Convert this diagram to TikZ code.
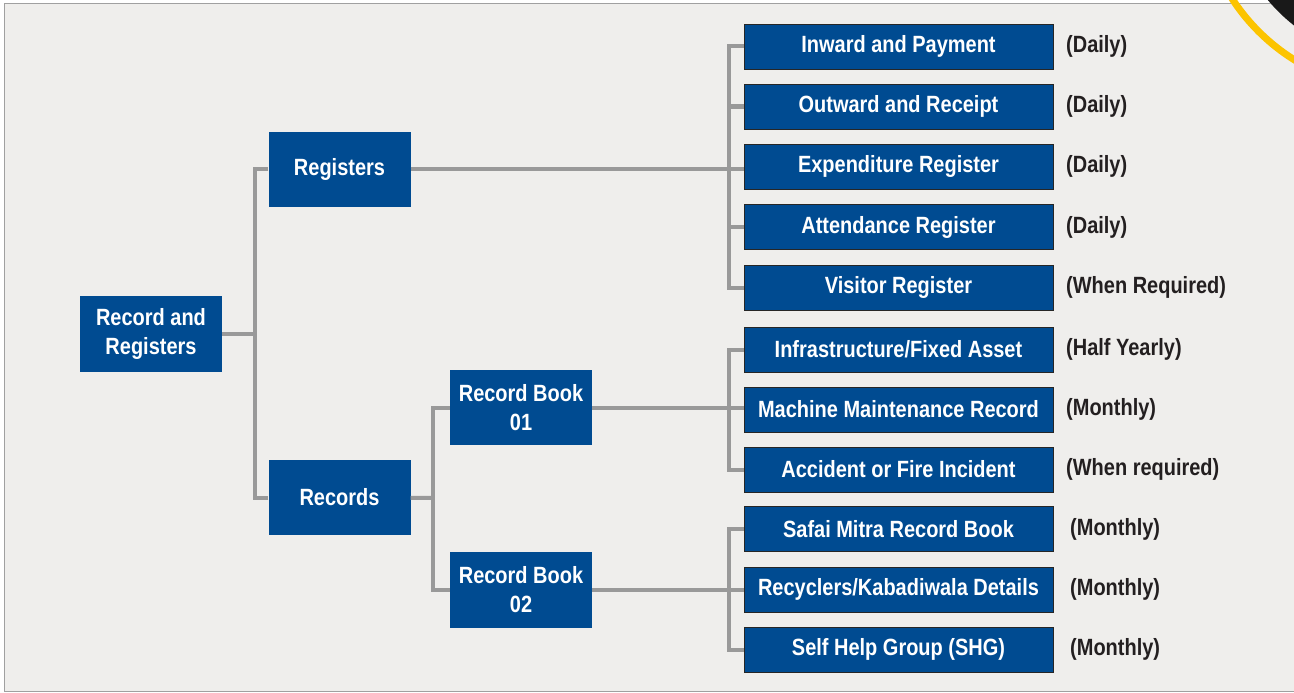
\documentclass[tikz,border=0pt]{standalone}
\usepackage{fontspec}
\setmainfont{Liberation Sans}[FakeStretch=0.85]
\usepackage{xcolor}
\usepackage{tikz}
\usetikzlibrary{positioning, calc}

\definecolor{boxblue}{RGB}{0,75,145}
\definecolor{panelgray}{RGB}{239,238,236}
\definecolor{framegray}{RGB}{160,160,160}
\definecolor{linegray}{RGB}{153,153,153}
\definecolor{ringyellow}{RGB}{252,196,0}
\definecolor{darktext}{RGB}{35,31,32}

\begin{document}
\begin{tikzpicture}[x=1pt, y=-1pt,
    box/.style={rectangle, fill=boxblue, text=white, align=center, inner sep=0pt, minimum width=142pt, minimum height=76pt, font=\fontsize{23.5}{29}\selectfont\bfseries},
    item/.style={box, draw=black!85, line width=0.8pt, minimum width=309pt, minimum height=45pt},
    freq/.style={anchor=west, inner sep=0pt, text=darktext, font=\fontsize{23.5}{29}\selectfont\bfseries},
    link/.style={draw=linegray, line width=4pt}
]

\clip (0,0) rectangle (1294,693);
\useasboundingbox (0,0) rectangle (1294,693);

% Background panel and corner badge
\fill[white] (0,0) rectangle (1294,693);
\draw[framegray, fill=panelgray, line width=1.5pt] (4.5,3.5) rectangle (1320,691.5);
\draw[ringyellow, line width=7pt] (1400,-110) circle (200);
\fill[black!90] (1400,-110) circle (172);

% Main levels
\node[box] (root) at (151,334) {Record and\\Registers};
\node[box, minimum height=75pt] (reg) at (339.5,169) {Registers};
\node[box, minimum height=75pt] (rec) at (339.5,497.5) {Records};
\node[box, minimum height=75pt] (rb1) at (521,407.5) {Record Book\\01};
\node[box] (rb2) at (521,590) {Record Book\\02};

% Registers
\node[item] (r1) at (898.5,46.5) {Inward and Payment};
\node[item] (r2) at (898.5,106.5) {Outward and Receipt};
\node[item] (r3) at (898.5,166.5) {Expenditure Register};
\node[item] (r4) at (898.5,227) {Attendance Register};
\node[item] (r5) at (898.5,287.5) {Visitor Register};

% Record Book 01
\node[item] (r6) at (898.5,349.5) {Infrastructure/Fixed Asset};
\node[item] (r7) at (898.5,409.5) {Machine Maintenance Record};
\node[item] (r8) at (898.5,469.5) {Accident or Fire Incident};

% Record Book 02
\node[item] (r9) at (898.5,529) {Safai Mitra Record Book};
\node[item] (r10) at (898.5,589.5) {Recyclers/Kabadiwala Details};
\node[item] (r11) at (898.5,649.5) {Self Help Group (SHG)};

% How often
\node[freq] (f1) at (1066,46.5) {(Daily)};
\node[freq] (f2) at (1066,106.5) {(Daily)};
\node[freq] (f3) at (1066,166.5) {(Daily)};
\node[freq] (f4) at (1066,227) {(Daily)};
\node[freq] (f5) at (1066,287.5) {(When Required)};
\node[freq] (f6) at (1066,349.5) {(Half Yearly)};
\node[freq] (f7) at (1066,409.5) {(Monthly)};
\node[freq] (f8) at (1066,469.5) {(When required)};
\node[freq] (f9) at (1070,529) {(Monthly)};
\node[freq] (f10) at (1070,589.5) {(Monthly)};
\node[freq] (f11) at (1070,649.5) {(Monthly)};

% Connectors
\coordinate (j1) at (255,334);
\coordinate (j2) at (433,498);
\draw[link] (root) -- (j1);
\draw[link] (reg) -| (j1);
\draw[link] (rec) -| (j1);
\draw[link] (rec) -- (j2);
\draw[link] (rb1) -| (j2);
\draw[link] (rb2) -| (j2);

\draw[link] (reg) -- (reg -| r3.west);
\draw[link] (r1.west) -- ++(-15,0) |- (r5.west);
\draw[link] (r2.west) -- ++(-15,0);
\draw[link] (r4.west) -- ++(-15,0);

\draw[link] (rb1) -- (rb1 -| r7.west);
\draw[link] (r6.west) -- ++(-15,0) |- (r8.west);

\draw[link] (rb2) -- (rb2 -| r10.west);
\draw[link] (r9.west) -- ++(-15,0) |- (r11.west);

\end{tikzpicture}
\end{document}
